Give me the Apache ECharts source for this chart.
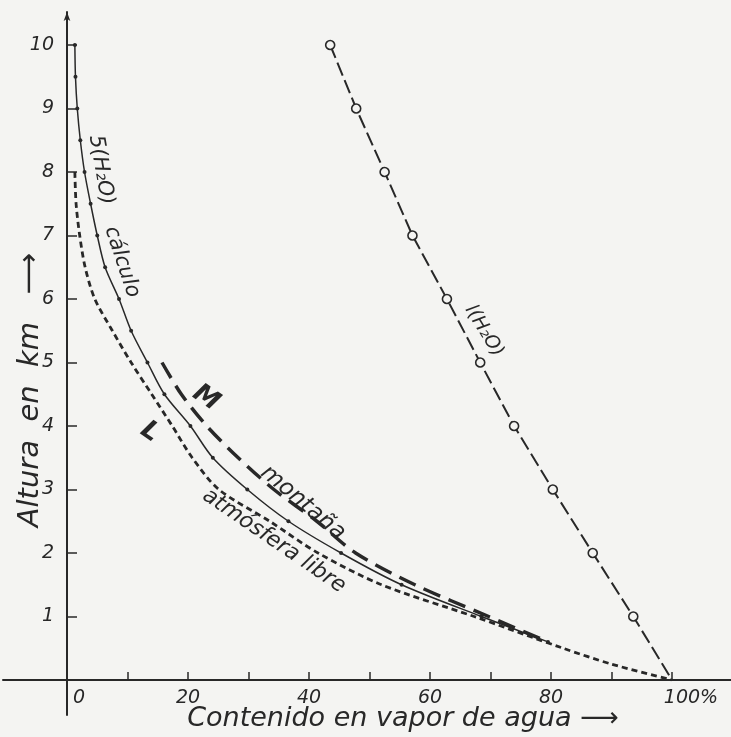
<!DOCTYPE html>
<html><head><meta charset="utf-8">
<script src="https://cdn.jsdelivr.net/npm/echarts@6/dist/echarts.min.js"></script>
<style>html,body{margin:0;padding:0;background:#f4f4f2}#c{width:731px;height:737px}</style>
</head><body><div id="c"></div>
<script>
// ---- data ----
const iHeights = [10, 9, 8, 7, 6, 5, 4, 3, 2, 1, 0];
const iValues  = [43.5, 47.8, 52.5, 57.1, 62.8, 68.3, 73.9, 80.3, 86.9, 93.6, 100];

const calcHeights = [10, 9.5, 9, 8.5, 8, 7.5, 7, 6.5, 6, 5.5, 5, 4.5, 4, 3.5, 3, 2.5, 2, 1.5, 1, 0.6];
const calcValues  = [1.3, 1.4, 1.7, 2.2, 2.9, 3.9, 5.0, 6.3, 8.6, 10.6, 13.3, 16.1, 20.4, 24.1, 29.8, 36.6, 45.3, 55.3, 68.5, 79.5];

const libreHeights = [8, 7.5, 7, 6.5, 6, 5.5, 5, 4.5, 4, 3.5, 3, 2.5, 2, 1.5, 1, 0.5, 0.25, 0];
const libreValues  = [1.3, 1.5, 2.1, 3.0, 4.6, 7.5, 10.6, 14.0, 17.4, 20.7, 25.1, 33.5, 41.5, 52, 67.3, 82, 90, 100];

const montHeights = [5, 4.5, 4, 3.5, 3, 2.5, 2, 1.5, 1, 0.6];
const montValues  = [15.7, 18.9, 23.1, 28.3, 34.2, 41.3, 47.7, 57.5, 69.7, 79.5];

const xLabelAt   = [0, 20, 40, 60, 80, 100];
const xLabelText = ['0', '20', '40', '60', '80', '100%'];
const yLabelText = ['', '1', '2', '3', '4', '5', '6', '7', '8', '9', '10'];

// ---- styling ----
const ink = '#282828';
const bg = '#f4f4f2';
const ff = '"DejaVu Sans", sans-serif';
const pairs = (xs, ys) => xs.map((v, i) => [v, ys[i]]);

const iData = pairs(iValues, iHeights).map((p, i, a) => i === a.length - 1 ? {value: p, symbol: 'none'} : p);

const chart = echarts.init(document.getElementById('c'));
const lblBase = {fontSize: 19, fontStyle: 'italic', color: ink, fontFamily: ff};
chart.setOption({
  backgroundColor: bg,
  animation: false,
  grid: [
    {left: 67, right: 59, top: 45, bottom: 57},
    {left: 3, right: 0, top: 12, bottom: 57},
    {left: 67, width: 20, top: 12, bottom: 22}
  ],
  xAxis: [
    {gridIndex: 0, type: 'value', min: 0, max: 100, interval: 10,
     axisLine: {show: false},
     axisTick: {inside: true, length: 8, lineStyle: {color: ink, width: 1.5}},
     splitLine: {show: false},
     axisLabel: Object.assign({}, lblBase, {
       margin: 9,
       formatter: v => {
         const k = xLabelAt.indexOf(v);
         if (k < 0) return '';
         if (v === 0) return '{z|' + xLabelText[k] + '}';
         if (v === 100) return '{p|' + xLabelText[k] + '}';
         return xLabelText[k];
       },
       rich: {
         z: Object.assign({}, lblBase, {padding: [0, 0, 0, 24]}),
         p: Object.assign({}, lblBase, {padding: [0, 0, 0, 38]})
       }
     })},
    {gridIndex: 1, type: 'value', min: 0, max: 1,
     axisLine: {show: true, onZero: false, lineStyle: {color: ink, width: 2}},
     axisTick: {show: false}, axisLabel: {show: false}, splitLine: {show: false}},
    {gridIndex: 2, type: 'value', show: false}
  ],
  yAxis: [
    {gridIndex: 0, type: 'value', min: 0, max: 10, interval: 1,
     axisLine: {show: false},
     axisTick: {inside: true, length: 10, lineStyle: {color: ink, width: 1.5}},
     splitLine: {show: false},
     axisLabel: Object.assign({}, lblBase, {margin: 13, formatter: v => yLabelText[Math.round(v)] || ''})},
    {gridIndex: 1, type: 'value', show: false},
    {gridIndex: 2, type: 'value', min: 0, max: 1,
     axisLine: {show: true, onZero: false, symbol: ['none', 'arrow'], symbolSize: [5, 9], lineStyle: {color: ink, width: 2}},
     axisTick: {show: false}, axisLabel: {show: false}, splitLine: {show: false}}
  ],
  series: [
    {name: 'l(H2O)', type: 'line', data: iData, symbol: 'circle', symbolSize: 9,
     itemStyle: {color: bg, borderColor: ink, borderWidth: 1.6},
     lineStyle: {color: ink, width: 2, type: [14, 5]}, z: 3},
    {name: 'calculo', type: 'line', data: pairs(calcValues, calcHeights), smooth: 0.3,
     symbol: 'circle', symbolSize: 4, itemStyle: {color: ink},
     lineStyle: {color: ink, width: 1.5}},
    {name: 'libre', type: 'line', data: pairs(libreValues, libreHeights), smooth: 0.3,
     symbol: 'none', lineStyle: {color: ink, width: 2.8, type: [6, 4]}},
    {name: 'montana', type: 'line', data: pairs(montValues, montHeights), smooth: 0.3,
     symbol: 'none', lineStyle: {color: ink, width: 3.5, type: [18, 9]}}
  ],
  graphic: [
    {type: 'text', x: 403, y: 719, style: {text: 'Contenido en vapor de agua ⟶', fontSize: 27, fontStyle: 'italic', fontFamily: ff, fill: ink, align: 'center', verticalAlign: 'middle'}},
    {type: 'text', x: 30, y: 390, rotation: Math.PI / 2, style: {text: 'Altura  en  km   ⟶', fontSize: 29, fontStyle: 'italic', fontFamily: ff, fill: ink, align: 'center', verticalAlign: 'middle'}},
    {type: 'text', x: 101, y: 170, rotation: -1.40, style: {text: '5(H₂O)', fontSize: 21, fontStyle: 'italic', fontFamily: ff, fill: ink, align: 'center', verticalAlign: 'middle'}},
    {type: 'text', x: 122, y: 262, rotation: -1.25, style: {text: 'cálculo', fontSize: 21, fontStyle: 'italic', fontFamily: ff, fill: ink, align: 'center', verticalAlign: 'middle'}},
    {type: 'text', x: 484, y: 331, rotation: -1.02, style: {text: 'l(H₂O)', fontSize: 19, fontStyle: 'italic', fontFamily: ff, fill: ink, align: 'center', verticalAlign: 'middle'}},
    {type: 'text', x: 206, y: 398, rotation: -0.6, style: {text: 'M', fontSize: 26, fontWeight: 'bold', fontStyle: 'italic', fontFamily: ff, fill: ink, align: 'center', verticalAlign: 'middle'}},
    {type: 'text', x: 150, y: 432, rotation: -0.6, style: {text: 'L', fontSize: 26, fontWeight: 'bold', fontStyle: 'italic', fontFamily: ff, fill: ink, align: 'center', verticalAlign: 'middle'}},
    {type: 'text', x: 303, y: 503, rotation: -0.7, style: {text: 'montaña', fontSize: 23, fontStyle: 'italic', fontFamily: ff, fill: ink, align: 'center', verticalAlign: 'middle'}},
    {type: 'text', x: 274, y: 541, rotation: -0.6, style: {text: 'atmósfera libre', fontSize: 22, fontStyle: 'italic', fontFamily: ff, fill: ink, align: 'center', verticalAlign: 'middle'}}
  ]
});
</script></body></html>
